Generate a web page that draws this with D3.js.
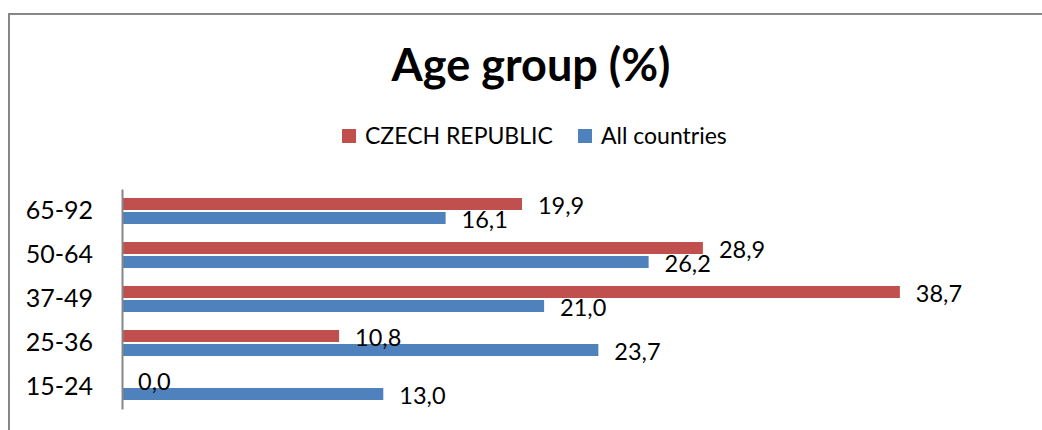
<!DOCTYPE html>
<html>
<head>
<meta charset="utf-8">
<script src="https://cdn.jsdelivr.net/npm/d3@7"></script>
<style>
  body { margin: 0; background: #fff; }
  svg { display: block; font-family: Lato, "Liberation Sans", sans-serif; }
</style>
</head>
<body>
<svg width="1042" height="430"></svg>
<script>
// data
const categories = ['65-92', '50-64', '37-49', '25-36', '15-24'];
const seriesNames = ['CZECH REPUBLIC', 'All countries'];
const czech = [19.9, 28.9, 38.7, 10.8, 0.0];
const allCountries = [16.1, 26.2, 21.0, 23.7, 13.0];
const colors = ['#C0504D', '#4F81BD'];

const svg = d3.select('svg');

// outer frame (only top and left edges fall inside the window)
svg.append('rect')
    .attr('x', 9).attr('y', 14)
    .attr('width', 1200).attr('height', 800)
    .attr('fill', 'none')
    .attr('stroke', '#868686')
    .attr('stroke-width', 2);

svg.append('text')
    .attr('x', 531).attr('y', 81)
    .attr('text-anchor', 'middle')
    .attr('font-size', 45)
    .attr('font-weight', 'bold')
    .text('Age group (%)');

// legend
const legendX = [342, 578];
const legend = svg.selectAll('.legend')
    .data(seriesNames)
    .join('g')
    .attr('transform', (d, i) => `translate(${legendX[i]},129)`);
legend.append('rect')
    .attr('width', 14).attr('height', 14)
    .attr('fill', (d, i) => colors[i]);
legend.append('text')
    .attr('x', 23).attr('y', 15)
    .attr('font-size', 23)
    .text((d) => d);

// scales
const xScale = d3.scaleLinear().domain([0, 45]).range([122, 122 + 45 * 20.1]);
const yScale = d3.scaleBand()
    .domain(categories)
    .range([189, 409])
    .paddingInner(18 / 44)
    .paddingOuter(9 / 44);
const ySub = d3.scaleBand()
    .domain([0, 1])
    .range([0, yScale.bandwidth()])
    .paddingInner(2 / 14);

const rows = [];
categories.forEach((c, i) => {
    rows.push({ cat: c, s: 0, value: czech[i] });
    rows.push({ cat: c, s: 1, value: allCountries[i] });
});

svg.append('g')
    .selectAll('rect')
    .data(rows)
    .join('rect')
    .attr('x', xScale(0))
    .attr('y', (d) => yScale(d.cat) + ySub(d.s))
    .attr('width', (d) => xScale(d.value) - xScale(0))
    .attr('height', ySub.bandwidth())
    .attr('fill', (d) => colors[d.s]);

// value labels
svg.append('g')
    .selectAll('text')
    .data(rows)
    .join('text')
    .attr('x', (d) => xScale(d.value) + 16)
    .attr('y', (d) => yScale(d.cat) + ySub(d.s) + ySub.bandwidth() / 2 + 1.5)
    .attr('dy', '0.35em')
    .attr('font-size', 23.5)
    .text((d) => d.value.toFixed(1).replace('.', ','));

// category axis
const yAxis = svg.append('g')
    .attr('transform', `translate(${xScale(0)},0)`)
    .call(d3.axisLeft(yScale).tickSize(0).tickPadding(29));
yAxis.select('.domain').attr('stroke', '#868686').attr('stroke-width', 2);
yAxis.selectAll('text')
    .attr('font-size', 25)
    .attr('font-family', 'Lato, sans-serif')
    .attr('fill', '#000');
</script>
</body>
</html>
